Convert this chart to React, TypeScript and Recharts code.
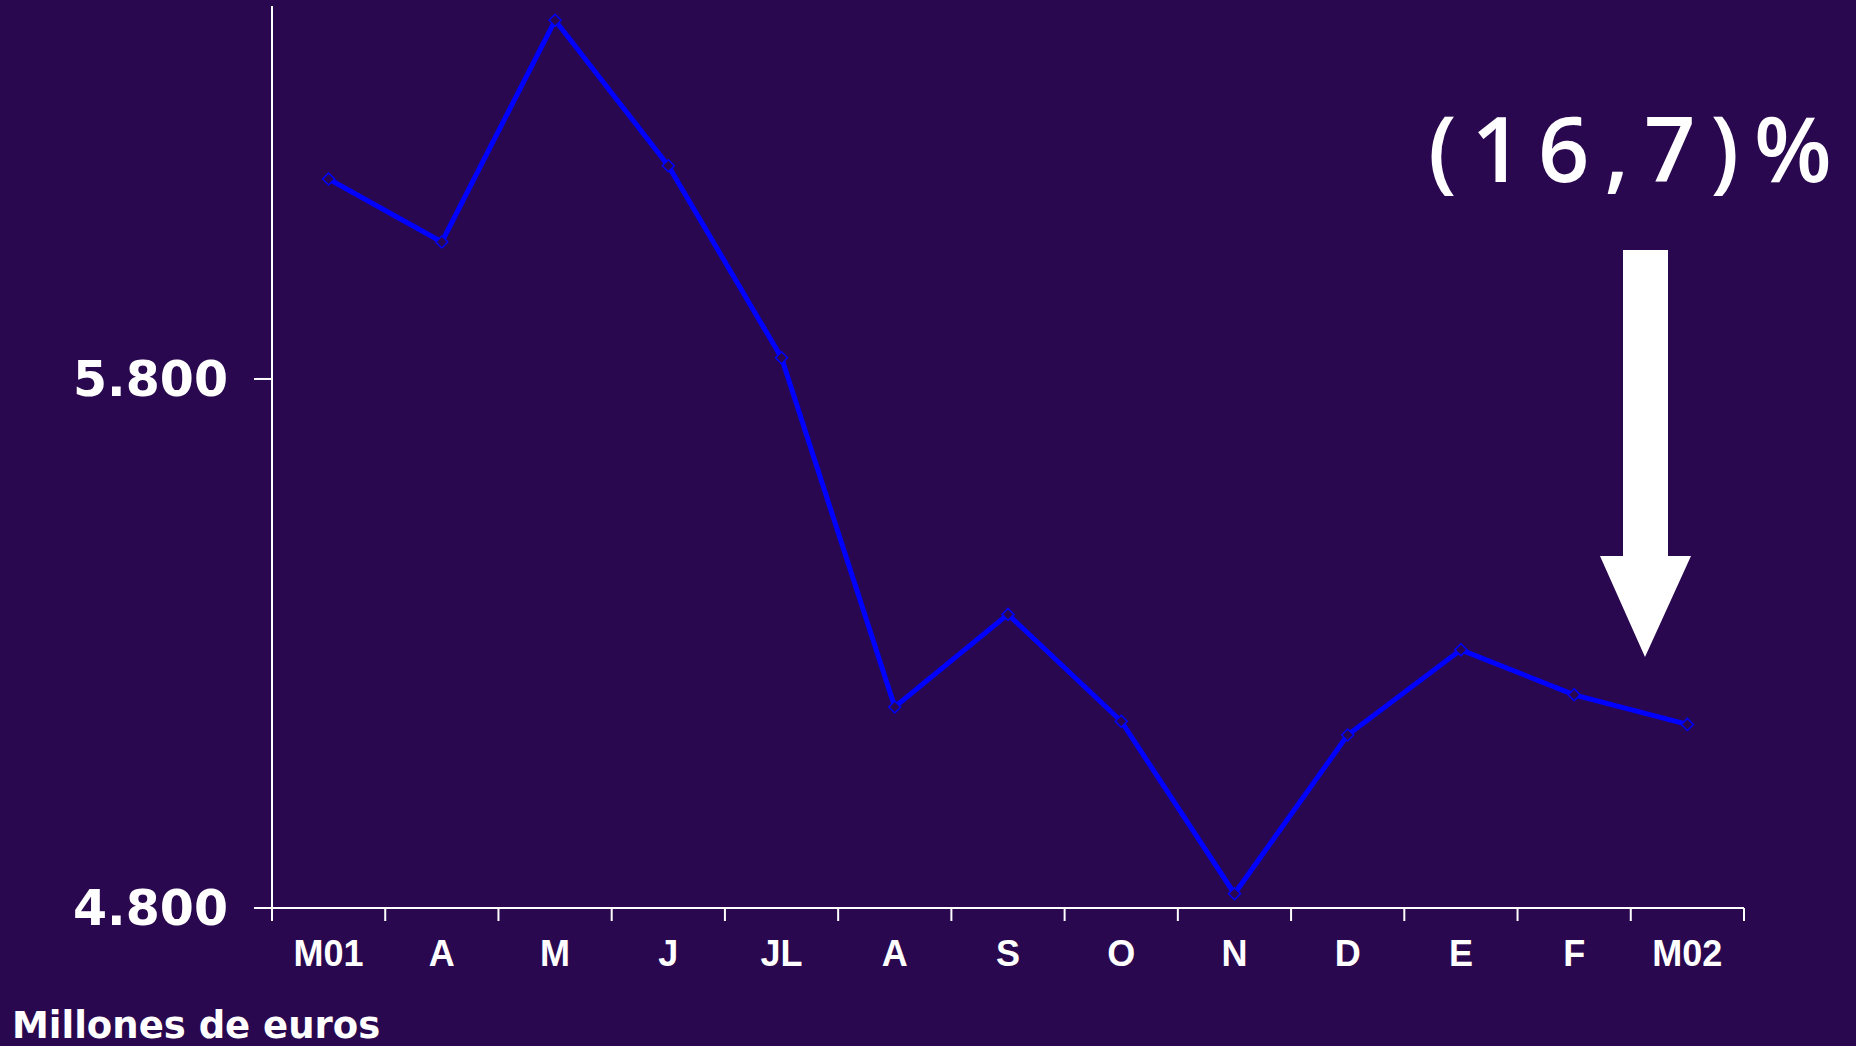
import React from 'react';
import { LineChart, Line, XAxis, YAxis } from 'recharts';

const months = ['M01', 'A', 'M', 'J', 'JL', 'A', 'S', 'O', 'N', 'D', 'E', 'F', 'M02'];
const sales = [6178, 6059, 6478, 6203, 5840, 5180, 5355, 5153, 4827, 5127, 5288, 5203, 5147];
const yTicks = [4800, 5800];
const changeLabel = '(16,7)%';
const unitLabel = 'Millones de euros';

const data = months.map((m, i) => ({ month: m, value: sales[i] }));

const BG = '#2A0850';
const W = 1856;
const H = 1046;
const PLOT_LEFT = 272;
const PLOT_RIGHT = 1744;
const HALF_BAND = (PLOT_RIGHT - PLOT_LEFT) / months.length / 2;

const fmt = (v: number) => String(v).replace(/\B(?=(\d{3})+(?!\d))/g, '.');

function XTick(props: any) {
  const { x, y, payload, index } = props;
  return (
    <g>
      <line x1={x - HALF_BAND} x2={x - HALF_BAND} y1={y} y2={y + 13} stroke="#fff" strokeWidth={2} />
      {index === months.length - 1 && (
        <line x1={x + HALF_BAND} x2={x + HALF_BAND} y1={y} y2={y + 13} stroke="#fff" strokeWidth={2} />
      )}
      <text
        x={x}
        y={y + 58}
        textAnchor="middle"
        fill="#fff"
        fontSize={36}
        fontWeight={700}
        fontFamily="Liberation Sans, Arial, sans-serif"
      >
        {payload.value}
      </text>
    </g>
  );
}

function Diamond(props: any) {
  const { cx, cy } = props;
  if (cx == null || cy == null) return null;
  const r = 6;
  return (
    <polygon
      points={`${cx},${cy - r} ${cx + r},${cy} ${cx},${cy + r} ${cx - r},${cy}`}
      fill={BG}
      stroke="#0000FF"
      strokeWidth={1.5}
    />
  );
}

export default function App() {
  return (
    <div style={{ position: 'fixed', left: 0, top: 0, width: W, height: H, background: BG, overflow: 'hidden' }}>
      <LineChart width={W} height={H} data={data} margin={{ top: 6, right: W - PLOT_RIGHT, bottom: 78, left: 0 }}>
        <XAxis
          dataKey="month"
          height={60}
          padding={{ left: HALF_BAND, right: HALF_BAND }}
          axisLine={{ stroke: '#fff', strokeWidth: 2 }}
          tickLine={false}
          tickSize={0}
          tickMargin={0}
          interval={0}
          tick={<XTick />}
        />
        <YAxis
          width={PLOT_LEFT}
          domain={[4800, 6505]}
          ticks={yTicks}
          tickFormatter={fmt}
          axisLine={{ stroke: '#fff', strokeWidth: 2 }}
          tickLine={{ stroke: '#fff', strokeWidth: 2 }}
          tickSize={18}
          tickMargin={26}
          tick={{ fill: '#fff', fontSize: 49, fontWeight: 700, fontFamily: 'DejaVu Sans' }}
        />
        <Line
          type="linear"
          dataKey="value"
          stroke="#0000FF"
          strokeWidth={5}
          dot={<Diamond />}
          activeDot={false}
          isAnimationActive={false}
        />
      </LineChart>
      <svg width={W} height={H} style={{ position: 'absolute', left: 0, top: 0, pointerEvents: 'none' }}>
        <text
          x={1428}
          y={182}
          fill="#fff"
          fontSize={90}
          fontWeight={600}
          letterSpacing={15}
          fontFamily="Open Sans, sans-serif"
        >
          {changeLabel}
        </text>
        <polygon
          points="1623,250 1668,250 1668,556 1691,556 1645,657 1600,556 1623,556"
          fill="#fff"
        />
        <text x={12} y={1038} fill="#fff" fontSize={37} fontWeight={700} fontFamily="DejaVu Sans">
          {unitLabel}
        </text>
      </svg>
    </div>
  );
}
